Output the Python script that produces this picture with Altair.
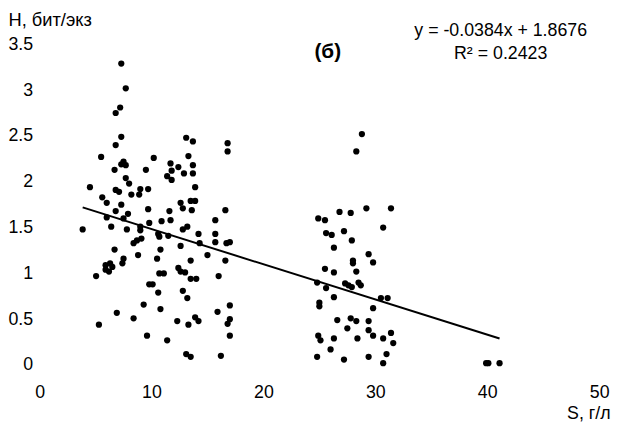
import altair as alt
import pandas as pd

# Salinity S (g/l) and diversity H (bit/ind)
s_vals = [
    7.3, 7.7, 7.2, 6.8, 7.3, 6.8, 5.5, 7.5, 7.3, 7.7, 6.7, 4.5, 7.7, 8.0, 6.8, 7.1, 8.2, 5.6, 6.0, 7.3,
    6.8, 7.9, 9.0, 8.9, 9.7, 9.5, 10.2, 9.7, 11.7, 11.8, 11.4, 11.8, 12.4, 12.9, 13.1, 13.7, 13.3, 13.7, 13.7, 13.9,
    12.6, 12.8, 13.5, 13.9, 13.6, 11.6, 16.8, 16.8, 16.6, 3.85, 5.05, 5.3, 6.0, 6.4, 6.7, 5.9, 6.3, 6.5, 6.2, 5.9,
    6.9, 7.5, 7.4, 7.8, 7.5, 8.4, 8.8, 8.4, 8.7, 9.1, 9.0, 9.0, 9.3, 9.6, 9.8, 10.1, 9.8, 10.6, 10.7, 10.5,
    10.8, 10.9, 10.6, 10.8, 10.7, 11.1, 11.4, 11.5, 11.7, 12.3, 12.6, 12.4, 12.6, 13.0, 12.8, 13.2, 12.8, 13.2, 13.1, 13.5,
    13.3, 13.5, 13.5, 14.0, 13.9, 14.2, 14.2, 14.3, 15.0, 15.7, 15.7, 15.7, 16.0, 15.9, 16.2, 16.6, 16.7, 17.0, 17.0, 17.0,
    16.8, 17.0,
    24.9, 25.5, 26.8, 27.8, 29.2, 31.4, 30.7, 25.6, 26.1, 27.2, 27.9, 26.3, 29.4, 29.8, 28.0, 28.0, 25.5, 26.3, 28.3, 24.8,
    25.6, 27.3, 27.9, 27.6, 28.5, 28.7, 26.3, 30.5, 31.1, 25.0, 25.0, 29.8, 26.6, 27.8, 28.3, 29.4, 27.5, 29.4, 29.8, 24.9,
    25.1, 26.3, 28.4, 30.7, 31.4, 31.6, 26.0, 24.8, 27.2, 29.4, 31.0, 30.7, 39.9, 40.1, 41.1, 28.8, 28.3,
]
h_vals = [
    3.29, 3.02, 2.81, 2.75, 2.49, 2.40, 2.27, 2.22, 2.19, 2.18, 2.13, 1.94, 2.04, 1.98, 1.91, 1.89, 1.86, 1.83, 1.77, 1.75,
    1.68, 1.65, 1.92, 1.86, 1.92, 2.13, 2.26, 1.70, 2.20, 2.12, 2.06, 2.02, 2.16, 2.09, 2.48, 2.44, 2.28, 2.18, 2.09, 1.94,
    1.77, 1.71, 1.79, 1.79, 1.69, 1.68, 2.42, 2.33, 1.69, 1.48, 0.97, 0.44, 1.61, 1.51, 1.26, 1.09, 1.11, 1.07, 1.02, 1.04,
    0.57, 1.16, 1.11, 1.48, 1.60, 0.51, 1.20, 1.33, 1.36, 1.38, 1.47, 1.51, 0.66, 0.32, 0.88, 0.88, 1.55, 1.43, 1.40, 1.16,
    1.26, 1.57, 0.79, 0.61, 1.00, 1.00, 0.27, 1.41, 1.58, 0.48, 1.30, 1.06, 1.02, 1.01, 1.48, 1.51, 0.81, 0.73, 0.12, 0.09,
    0.44, 1.14, 0.94, 0.94, 0.52, 0.48, 1.43, 1.33, 1.20, 1.58, 1.43, 1.34, 0.97, 0.58, 0.10, 1.14, 1.33, 1.34, 0.65, 0.50,
    0.45, 0.32,
    1.60, 1.58, 1.67, 1.66, 1.71, 1.71, 1.50, 1.44, 1.42, 1.46, 1.36, 1.28, 1.21, 1.12, 1.14, 1.11, 1.05, 1.01, 1.02, 0.90,
    0.84, 0.89, 0.85, 0.87, 0.90, 0.87, 0.74, 0.73, 0.73, 0.68, 0.64, 0.62, 0.49, 0.51, 0.48, 0.48, 0.40, 0.38, 0.32, 0.32,
    0.27, 0.29, 0.29, 0.29, 0.35, 0.24, 0.17, 0.09, 0.06, 0.09, 0.12, 0.02, 0.02, 0.02, 0.02, 2.52, 2.33,
]

slope = -0.0384
intercept = 1.8676
x_ticks = [0, 10, 20, 30, 40, 50]
y_ticks = [0, 0.5, 1, 1.5, 2, 2.5, 3, 3.5]
eq_text = "y = -0.0384x + 1.8676"
r2_text = "R² = 0.2423"
panel_label = "(б)"

FONT = "Liberation Sans"
FS = 18

points = pd.DataFrame({"S": s_vals, "H": h_vals})
x_lo, x_hi = min(s_vals), max(s_vals)
trend = pd.DataFrame({"S": [x_lo, x_hi], "H": [slope * x_lo + intercept, slope * x_hi + intercept]})

xscale = alt.Scale(domain=[0, 50], nice=False, zero=False)
yscale = alt.Scale(domain=[0, 3.5], nice=False, zero=False)

xaxis = alt.Axis(values=x_ticks, domain=False, ticks=False, tickSize=0, grid=False,
                 labelFont=FONT, labelFontSize=FS, labelColor="black", labelPadding=19,
                 labelFlush=False, labelOverlap=False,
                 title="S, г/л", titleFont=FONT, titleFontSize=FS, titleFontWeight="normal",
                 titleColor="black", titleX=578, titleY=49, titleAlign="right", titleBaseline="middle")
yaxis = alt.Axis(values=y_ticks, format=".1~f", domain=False, ticks=False, tickSize=0, grid=False,
                 labelFont=FONT, labelFontSize=FS, labelColor="black", labelPadding=7,
                 labelFlush=False, labelOverlap=False,
                 title="Н, бит/экз", titleFont=FONT, titleFontSize=18.5, titleFontWeight="normal",
                 titleColor="black", titleAngle=0, titleX=-32, titleY=-34,
                 titleAlign="left", titleBaseline="top")

scatter = alt.Chart(points).mark_circle(size=40, color="black", opacity=1).encode(
    x=alt.X("S:Q", scale=xscale, axis=xaxis),
    y=alt.Y("H:Q", scale=yscale, axis=yaxis),
)

line = alt.Chart(trend).mark_line(color="black", strokeWidth=2).encode(
    x=alt.X("S:Q", scale=xscale),
    y=alt.Y("H:Q", scale=yscale),
)

notes = pd.DataFrame({
    "S": [41.2, 41.2],
    "H": [3.64, 3.39],
    "t": [eq_text, r2_text],
})
note_marks = alt.Chart(notes).mark_text(font=FONT, fontSize=FS, color="black", align="center",
                                         baseline="middle").encode(
    x=alt.X("S:Q", scale=xscale), y=alt.Y("H:Q", scale=yscale), text="t:N")

label_df = pd.DataFrame({"S": [25.75], "H": [3.41], "t": [panel_label]})
label_mark = alt.Chart(label_df).mark_text(font=FONT, fontSize=21, fontWeight="bold", color="black",
                                           align="center", baseline="middle").encode(
    x=alt.X("S:Q", scale=xscale), y=alt.Y("H:Q", scale=yscale), text="t:N")

chart = alt.layer(scatter, line, note_marks, label_mark).properties(
    width=567, height=325,
    autosize=alt.AutoSizeParams(type="none"),
    padding={"left": 32, "top": 34, "right": 12, "bottom": 56},
    background="white",
).configure_view(strokeWidth=0)

chart.save("out.html", embed_options={"renderer": "svg", "actions": False})
